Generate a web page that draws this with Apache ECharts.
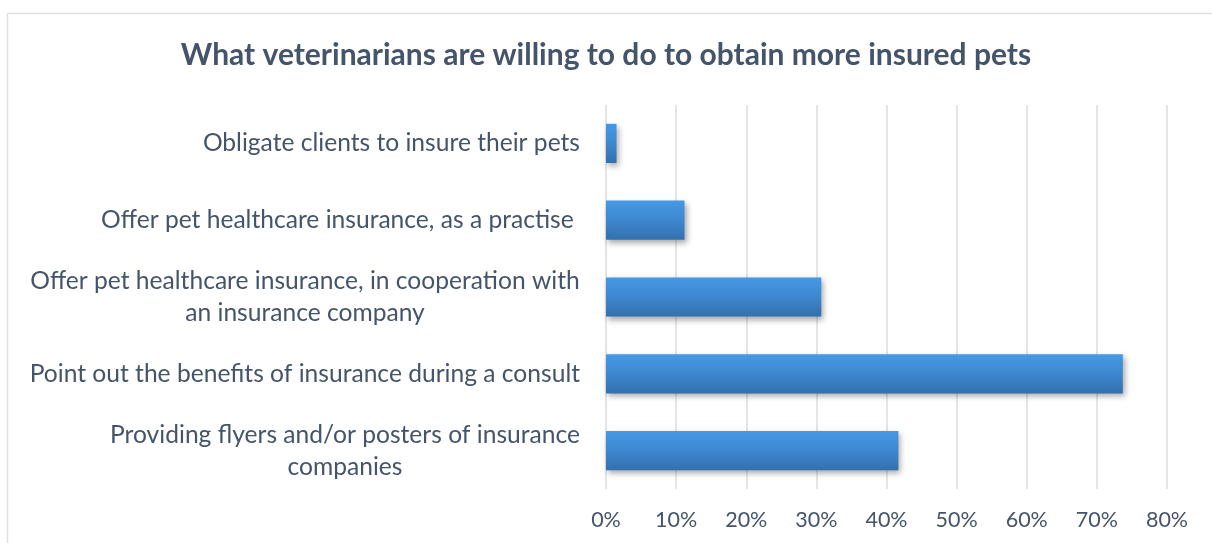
<!DOCTYPE html>
<html>
<head>
<meta charset="utf-8">
<script src="https://cdn.jsdelivr.net/npm/echarts@6/dist/echarts.min.js"></script>
<style>
  html, body { margin: 0; padding: 0; background: #ffffff; }
  #chart { width: 1212px; height: 543px; }
</style>
</head>
<body>
<div id="chart"></div>
<script>
// Survey answers, listed top to bottom
const categories = [
  'Obligate clients to insure their pets',
  'Offer pet healthcare insurance, as a practise ',
  'Offer pet healthcare insurance, in cooperation with\nan insurance company',
  'Point out the benefits of insurance during a consult',
  'Providing flyers and/or posters of insurance\ncompanies'
];
// Share of veterinarians (%)
const shares = [1.5, 11.2, 30.7, 73.7, 41.7];
// Value axis ticks (%)
const xTicks = [0, 10, 20, 30, 40, 50, 60, 70, 80];

const titleText = 'What veterinarians are willing to do to obtain more insured pets';
const textColor = '#44546A';
const fontFamily = 'Lato, "Open Sans", sans-serif';
const labelSize = 24.6;

// Measure text so multi-line category labels can be centred line by line
const measureCtx = document.createElement('canvas').getContext('2d');
function textWidth(s) {
  measureCtx.font = labelSize + 'px ' + fontFamily;
  return measureCtx.measureText(s).width;
}
const richStyles = {};
categories.forEach((c, i) => {
  const lines = c.split('\n');
  if (lines.length > 1) {
    richStyles['c' + i] = {
      width: Math.ceil(Math.max(...lines.map(textWidth))),
      align: 'center',
      fontSize: labelSize,
      fontFamily: fontFamily,
      color: textColor,
      lineHeight: 32
    };
  }
});

const chart = echarts.init(document.getElementById('chart'), null, { renderer: 'canvas' });
chart.setOption({
  backgroundColor: '#ffffff',
  animation: false,
  graphic: [{
    type: 'rect',
    shape: { x: 7.5, y: 13.5, width: 1300, height: 600 },
    style: { fill: 'none', stroke: '#DDE1E6', lineWidth: 1.5 },
    silent: true,
    z: -10
  }],
  title: {
    text: titleText,
    left: 'center',
    top: 39,
    padding: 0,
    textStyle: {
      fontFamily: fontFamily,
      fontWeight: 'bold',
      fontSize: 30,
      lineHeight: 32,
      color: textColor
    }
  },
  grid: { left: 606, right: 45, top: 105, bottom: 54, containLabel: false },
  xAxis: {
    type: 'value',
    min: xTicks[0],
    max: xTicks[xTicks.length - 1],
    interval: xTicks[1] - xTicks[0],
    axisLine: { show: false },
    axisTick: { show: false },
    splitLine: { show: true, lineStyle: { color: '#D9DEE5', width: 1.5 } },
    axisLabel: {
      formatter: '{value}%',
      margin: 20,
      fontFamily: fontFamily,
      fontSize: 21.5,
      color: textColor
    }
  },
  yAxis: {
    type: 'category',
    data: categories,
    inverse: true,
    axisLine: { show: false },
    axisTick: { show: false },
    axisLabel: {
      margin: 26,
      fontFamily: fontFamily,
      fontSize: labelSize,
      lineHeight: 32,
      color: textColor,
      align: 'right',
      formatter: function (value, idx) {
        const lines = value.split('\n');
        if (lines.length === 1) return value;
        return lines.map(l => '{c' + idx + '|' + l + '}').join('\n');
      },
      rich: richStyles
    }
  },
  series: [{
    type: 'bar',
    data: shares,
    barCategoryGap: '49%',
    itemStyle: {
      color: new echarts.graphic.LinearGradient(0, 0, 0, 1, [
        { offset: 0, color: '#4699E3' },
        { offset: 0.5, color: '#3E87D0' },
        { offset: 1, color: '#3370AD' }
      ]),
      shadowColor: 'rgba(0, 0, 0, 0.35)',
      shadowBlur: 6,
      shadowOffsetX: 2,
      shadowOffsetY: 3
    }
  }]
});
</script>
</body>
</html>
